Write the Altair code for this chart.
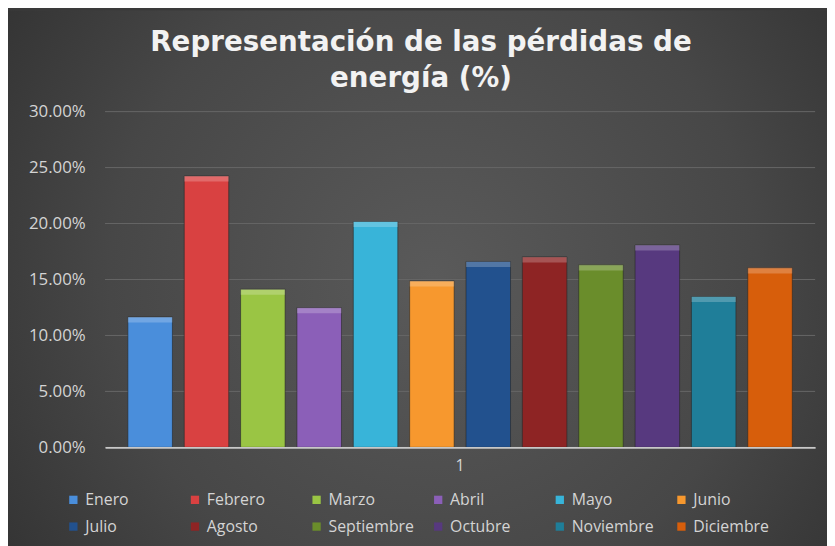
import altair as alt
import pandas as pd

meses = ["Enero", "Febrero", "Marzo", "Abril", "Mayo", "Junio",
         "Julio", "Agosto", "Septiembre", "Octubre", "Noviembre", "Diciembre"]
perdidas = [0.1165, 0.2425, 0.1413, 0.1248, 0.2018, 0.1487,
            0.1661, 0.1702, 0.1631, 0.1808, 0.1348, 0.1604]
colores = ["#4a8edb", "#d94141", "#9ac544", "#8b5fb8", "#38b4d9", "#f7982e",
           "#22518e", "#8e2424", "#6a8d2b", "#57397f", "#1f7e99", "#d75e0b"]
grupo = ["1"] * len(meses)
marcas_y = [0, 0.05, 0.10, 0.15, 0.20, 0.25, 0.30]
titulo = ["Representación de las pérdidas de", "energía (%)"]

df = pd.DataFrame({"mes": meses, "valor": perdidas, "grupo": grupo})
df_grid = pd.DataFrame({"valor": marcas_y})

FONT = "Open Sans"
LABEL = "#d4d4d4"


def y_enc(field="valor:Q"):
    return alt.Y(field, title=None,
                 scale=alt.Scale(domain=[0, 0.30]),
                 axis=alt.Axis(format=".2%", values=marcas_y, grid=False,
                               domain=False, ticks=False, labelPadding=20,
                               labelColor=LABEL, labelFont=FONT, labelFontSize=17,
                               zindex=2))


x = alt.X("grupo:N", title=None,
          scale=alt.Scale(paddingOuter=0.025, paddingInner=0),
          axis=alt.Axis(labelAngle=0, domainColor="#c8c8c8", domainWidth=1.6,
                        ticks=False, labelPadding=10, labelColor=LABEL,
                        labelFont=FONT, labelFontSize=16, zindex=2))
xo = alt.XOffset("mes:N", sort=meses,
                 scale=alt.Scale(paddingInner=0.21, paddingOuter=0.105))
color = alt.Color("mes:N", sort=meses, title=None,
                  scale=alt.Scale(domain=meses, range=colores),
                  legend=alt.Legend(orient="none", legendX=-40, legendY=384,
                                    direction="horizontal", columns=6,
                                    gridAlign="all", columnPadding=15.8,
                                    rowPadding=11, symbolType="square",
                                    symbolSize=70, symbolStrokeWidth=0,
                                    labelColor=LABEL, labelFont=FONT,
                                    labelFontSize=16, labelOffset=4, zindex=2))

base_one = alt.Chart(df_grid).transform_filter("datum.valor == 0")

fondo = base_one.mark_rect(
    color=alt.Gradient(gradient="radial",
                       stops=[alt.GradientStop(color="#5a5a5a", offset=0),
                              alt.GradientStop(color="#474747", offset=0.55),
                              alt.GradientStop(color="#2c2c2c", offset=1)],
                       x1=0.52, y1=0.5, r1=0, x2=0.52, y2=0.5, r2=0.72)
).encode(x=alt.value(-98), x2=alt.value(729), y=alt.value(-102), y2=alt.value(439))

titulo_mark = base_one.mark_text(
    text=titulo, font="DejaVu Sans", fontSize=28, fontWeight="bold",
    color="#f2f2f2", lineHeight=36, align="center", baseline="alphabetic"
).encode(x=alt.value(319), y=alt.value(-61))

grid = alt.Chart(df_grid).mark_rule(color="#666666", strokeWidth=1).encode(
    y=y_enc()
)

bars = alt.Chart(df).mark_bar(stroke="#262626", strokeWidth=1, strokeOpacity=0.6).encode(
    x=x, xOffset=xo,
    y=y_enc(),
    color=color,
)

bevel = alt.Chart(df).transform_calculate(
    top2="datum.valor - 0.005"
).mark_bar(color="white", opacity=0.22).encode(
    x=x, xOffset=xo,
    y="valor:Q", y2="top2:Q",
)

chart = alt.layer(fondo, titulo_mark, grid, bars, bevel).properties(
    width=717, height=339,
    autosize=alt.AutoSizeParams(type="none"),
    padding={"left": 98, "top": 102, "right": 12, "bottom": 100},
    background="#3a3a3a",
).configure_view(stroke=None)

chart.save("out.html", embed_options={"renderer": "svg", "actions": False})
